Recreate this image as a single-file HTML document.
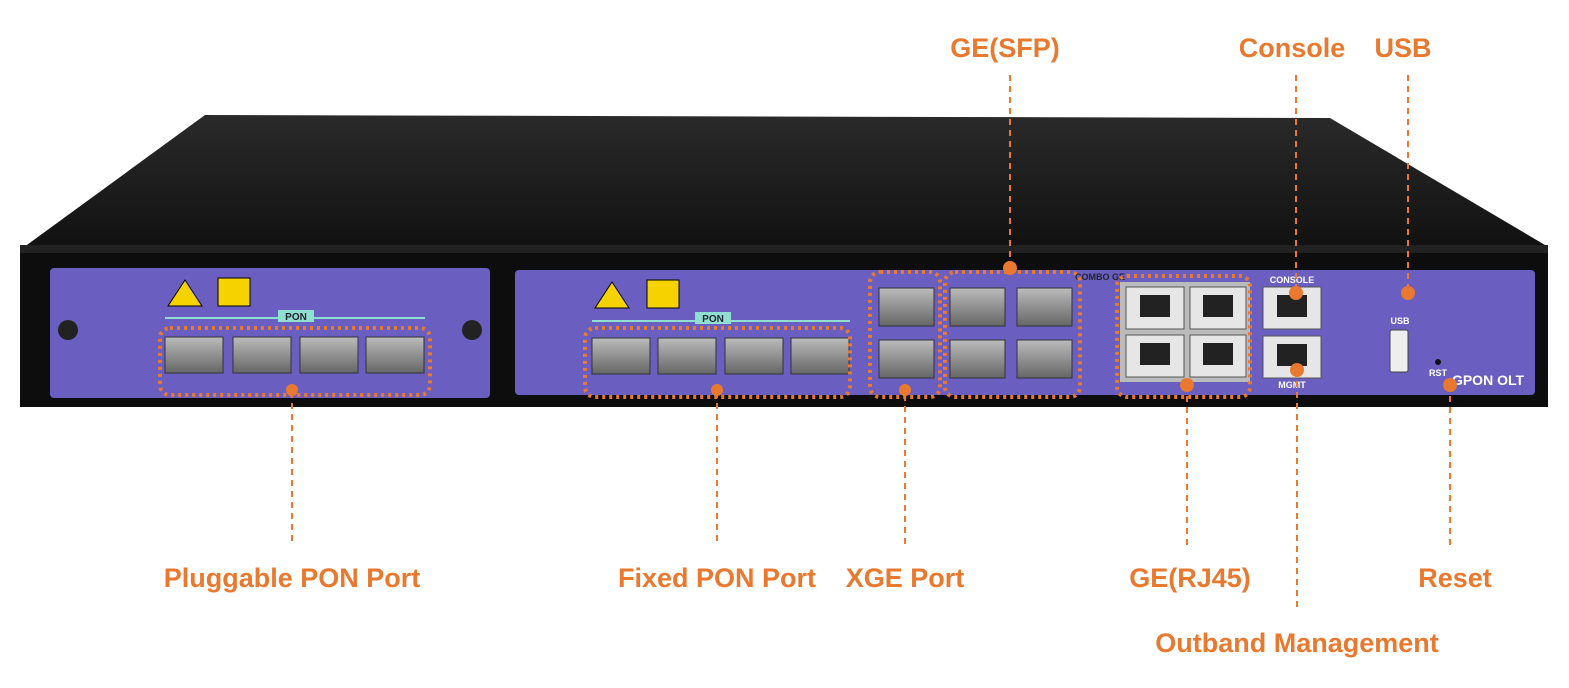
<!DOCTYPE html>
<html><head><meta charset="utf-8"><style>
html,body{margin:0;padding:0;background:#fff;}
svg{display:block;}
.lbl{font-family:"Liberation Sans",sans-serif;font-weight:bold;font-size:27px;fill:#E8792F;}
.sm{font-family:"Liberation Sans",sans-serif;font-weight:bold;font-size:9px;fill:#fff;}
.lead{stroke:#E8792F;stroke-width:2;stroke-dasharray:6,5;fill:none;}
.box{stroke:#E8792F;stroke-width:4;stroke-dasharray:3,4;fill:none;}
</style></head><body>
<svg width="1569" height="688" viewBox="0 0 1569 688" xmlns="http://www.w3.org/2000/svg">
<defs>
<linearGradient id="top" x1="0" y1="0" x2="0" y2="1"><stop offset="0" stop-color="#2a2a2a"/><stop offset="1" stop-color="#111"/></linearGradient>
<linearGradient id="sfp" x1="0" y1="0" x2="0" y2="1"><stop offset="0" stop-color="#bbb"/><stop offset="1" stop-color="#666"/></linearGradient>
</defs>
<polygon points="20,250 205,115 1330,118 1545,245" fill="url(#top)"/>
<rect x="20" y="245" width="1528" height="162" fill="#0d0d0d"/>
<rect x="20" y="245" width="1528" height="8" fill="#222"/>
<rect x="50" y="268" width="440" height="130" rx="4" fill="#6a5fc0"/>
<circle cx="68" cy="330" r="10" fill="#222"/><circle cx="472" cy="330" r="10" fill="#222"/>
<rect x="515" y="270" width="1020" height="125" rx="4" fill="#6a5fc0"/>
<polygon points="185,280 168,306 202,306" fill="#f5d200" stroke="#000"/>
<rect x="218" y="278" width="32" height="28" fill="#f5d200" stroke="#000"/>
<polygon points="612,282 595,308 629,308" fill="#f5d200" stroke="#000"/>
<rect x="647" y="280" width="32" height="28" fill="#f5d200" stroke="#000"/>
<line x1="165" y1="318" x2="425" y2="318" stroke="#8fe0d0" stroke-width="2"/>
<rect x="278" y="310" width="36" height="12" fill="#8fe0d0"/><text x="296" y="320" text-anchor="middle" font-family="Liberation Sans" font-weight="bold" font-size="10" fill="#223">PON</text>
<line x1="592" y1="321" x2="850" y2="321" stroke="#8fe0d0" stroke-width="2"/>
<rect x="695" y="312" width="36" height="12" fill="#8fe0d0"/><text x="713" y="322" text-anchor="middle" font-family="Liberation Sans" font-weight="bold" font-size="10" fill="#223">PON</text>
<g fill="url(#sfp)" stroke="#333">
<rect x="165" y="337" width="58" height="36"/><rect x="233" y="337" width="58" height="36"/><rect x="300" y="337" width="58" height="36"/><rect x="366" y="337" width="58" height="36"/>
<rect x="592" y="338" width="58" height="36"/><rect x="658" y="338" width="58" height="36"/><rect x="725" y="338" width="58" height="36"/><rect x="791" y="338" width="58" height="36"/>
<rect x="879" y="288" width="55" height="38"/><rect x="879" y="340" width="55" height="38"/>
<rect x="950" y="288" width="55" height="38"/><rect x="950" y="340" width="55" height="38"/>
<rect x="1017" y="288" width="55" height="38"/><rect x="1017" y="340" width="55" height="38"/>
</g>
<rect x="1120" y="282" width="130" height="100" fill="#bbb"/>
<g fill="#e6e6e6" stroke="#555">
<rect x="1126" y="287" width="58" height="42"/><rect x="1190" y="287" width="56" height="42"/>
<rect x="1126" y="335" width="58" height="42"/><rect x="1190" y="335" width="56" height="42"/>
<rect x="1263" y="287" width="58" height="42"/><rect x="1263" y="336" width="58" height="42"/>
</g>
<g fill="#222">
<rect x="1140" y="295" width="30" height="22"/><rect x="1203" y="295" width="30" height="22"/>
<rect x="1140" y="343" width="30" height="22"/><rect x="1203" y="343" width="30" height="22"/>
<rect x="1277" y="295" width="30" height="22"/><rect x="1277" y="344" width="30" height="22"/>
</g>
<text x="1292" y="283" text-anchor="middle" class="sm">CONSOLE</text>
<text x="1292" y="388" text-anchor="middle" class="sm">MGMT</text>
<text x="1400" y="324" text-anchor="middle" class="sm">USB</text>
<rect x="1390" y="330" width="18" height="42" rx="2" fill="#eee" stroke="#444"/>
<text x="1438" y="376" text-anchor="middle" class="sm">RST</text>
<circle cx="1438" cy="362" r="3" fill="#111"/>
<text x="1488" y="385" text-anchor="middle" font-family="Liberation Sans" font-weight="bold" font-size="14" fill="#fff">GPON OLT</text>
<text x="1100" y="280" text-anchor="middle" font-family="Liberation Sans" font-weight="bold" font-size="9" fill="#223">COMBO GE</text>
<rect class="box" x="160" y="328" width="270" height="67" rx="10"/>
<rect class="box" x="585" y="328" width="265" height="69" rx="10"/>
<rect class="box" x="870" y="272" width="70" height="125" rx="10"/>
<rect class="box" x="945" y="272" width="135" height="125" rx="10"/>
<rect class="box" x="1117" y="276" width="133" height="121" rx="10"/>
<line class="lead" x1="292" y1="392" x2="292" y2="545"/>
<line class="lead" x1="717" y1="392" x2="717" y2="545"/>
<line class="lead" x1="905" y1="395" x2="905" y2="545"/>
<line class="lead" x1="1010" y1="75" x2="1010" y2="268"/>
<line class="lead" x1="1296" y1="75" x2="1296" y2="293"/>
<line class="lead" x1="1408" y1="75" x2="1408" y2="293"/>
<line class="lead" x1="1187" y1="385" x2="1187" y2="545"/>
<line class="lead" x1="1297" y1="370" x2="1297" y2="610"/>
<line class="lead" x1="1450" y1="385" x2="1450" y2="545"/>
<g fill="#E8792F">
<circle cx="292" cy="390" r="6"/><circle cx="717" cy="390" r="6"/><circle cx="905" cy="390" r="6"/>
<circle cx="1010" cy="268" r="7"/><circle cx="1296" cy="293" r="7"/><circle cx="1408" cy="293" r="7"/>
<circle cx="1187" cy="385" r="7"/><circle cx="1297" cy="370" r="7"/><circle cx="1450" cy="385" r="7"/>
</g>
<text class="lbl" x="1005" y="57" text-anchor="middle">GE(SFP)</text>
<text class="lbl" x="1292" y="57" text-anchor="middle">Console</text>
<text class="lbl" x="1403" y="57" text-anchor="middle">USB</text>
<text class="lbl" x="292" y="587" text-anchor="middle">Pluggable PON Port</text>
<text class="lbl" x="717" y="587" text-anchor="middle">Fixed PON Port</text>
<text class="lbl" x="905" y="587" text-anchor="middle">XGE Port</text>
<text class="lbl" x="1190" y="587" text-anchor="middle">GE(RJ45)</text>
<text class="lbl" x="1455" y="587" text-anchor="middle">Reset</text>
<text class="lbl" x="1297" y="652" text-anchor="middle">Outband Management</text>
</svg>
</body></html>
